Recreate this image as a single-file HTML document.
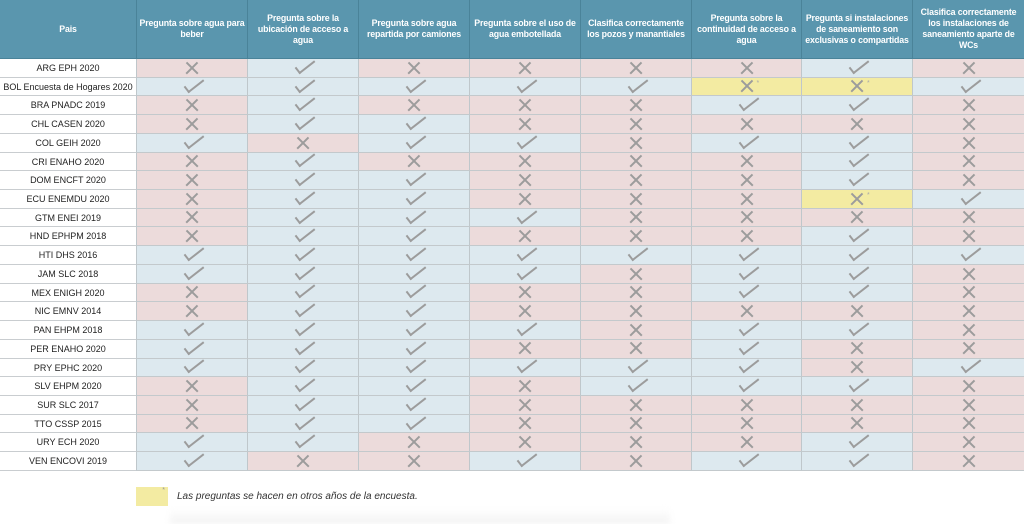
<!DOCTYPE html>
<html><head><meta charset="utf-8"><style>
*{box-sizing:border-box;margin:0;padding:0}
body{width:1024px;height:524px;background:#fff;font-family:"Liberation Sans",sans-serif;overflow:hidden;position:relative}
.g{position:absolute;left:0;top:0;display:grid;grid-template-columns:136px 111px 111px 111px 111px 111px 110px 111px 112px;grid-template-rows:59px repeat(22,18.73px)}
.h{background:#5a96ae;color:#fff;font-weight:bold;font-size:8.8px;line-height:11px;text-align:center;display:flex;align-items:center;justify-content:center;padding:0 2px;border-left:1px solid #4a8399;border-bottom:1px solid #4a8399;letter-spacing:-0.15px}
.h:first-child{border-left:none}
.n{font-size:9px;color:#222;text-align:center;line-height:18px;border-bottom:1px solid #c9cdd0;white-space:nowrap}
i{position:relative;border-bottom:1px solid #c3c9cc;border-left:1px solid #bfc7cb}
.r{background:#ecdbdb}.b{background:#dde9ef}.y{background:#f3eba2}
.x::before,.x::after{content:"";position:absolute;left:50%;top:50%;width:16px;height:2.4px;margin:-1.2px 0 0 -8px;background:#9c9c9c;transform:rotate(45deg)}
.x::after{transform:rotate(-45deg)}
.v::before{content:"";position:absolute;left:50%;top:50%;width:6px;height:18px;margin:-13px 0 0 -2px;border-right:2.4px solid #9c9c9c;border-bottom:2.4px solid #9c9c9c;transform:rotate(52deg)}
.s{position:absolute;left:50%;top:2px;margin-left:10px;font-size:7px;color:#aaa;font-style:normal}
.leg{position:absolute;left:136px;top:487px;width:32px;height:19px;background:#f3eba2}
.leg span{position:absolute;right:3px;top:0;font-size:7px;color:#999}
.lt{position:absolute;left:177px;top:491px;font-size:10px;font-style:italic;color:#333}
.sh{position:absolute;left:170px;top:508px;width:500px;height:16px;background:linear-gradient(#fff,#f2f2f2);filter:blur(3px)}
</style></head><body>
<div class="sh"></div>
<div class="g">
<div class="h">Pais</div><div class="h">Pregunta sobre agua para beber</div><div class="h">Pregunta sobre la ubicación de acceso a agua</div><div class="h">Pregunta sobre agua repartida por camiones</div><div class="h">Pregunta sobre el uso de agua embotellada</div><div class="h">Clasifica correctamente los pozos y manantiales</div><div class="h">Pregunta sobre la continuidad de acceso a agua</div><div class="h">Pregunta si instalaciones de saneamiento son exclusivas o compartidas</div><div class="h">Clasifica correctamente los instalaciones de saneamiento aparte de WCs</div>
<div class="n">ARG EPH 2020</div><i class="r x"></i><i class="b v"></i><i class="r x"></i><i class="r x"></i><i class="r x"></i><i class="r x"></i><i class="b v"></i><i class="r x"></i>
<div class="n">BOL Encuesta de Hogares 2020</div><i class="b v"></i><i class="b v"></i><i class="b v"></i><i class="b v"></i><i class="b v"></i><i class="y x"><em class="s">*</em></i><i class="y x"><em class="s">*</em></i><i class="b v"></i>
<div class="n">BRA PNADC 2019</div><i class="r x"></i><i class="b v"></i><i class="r x"></i><i class="r x"></i><i class="r x"></i><i class="b v"></i><i class="b v"></i><i class="r x"></i>
<div class="n">CHL CASEN 2020</div><i class="r x"></i><i class="b v"></i><i class="b v"></i><i class="r x"></i><i class="r x"></i><i class="r x"></i><i class="r x"></i><i class="r x"></i>
<div class="n">COL GEIH 2020</div><i class="b v"></i><i class="r x"></i><i class="b v"></i><i class="b v"></i><i class="r x"></i><i class="b v"></i><i class="b v"></i><i class="r x"></i>
<div class="n">CRI ENAHO 2020</div><i class="r x"></i><i class="b v"></i><i class="r x"></i><i class="r x"></i><i class="r x"></i><i class="r x"></i><i class="b v"></i><i class="r x"></i>
<div class="n">DOM ENCFT 2020</div><i class="r x"></i><i class="b v"></i><i class="b v"></i><i class="r x"></i><i class="r x"></i><i class="r x"></i><i class="b v"></i><i class="r x"></i>
<div class="n">ECU ENEMDU 2020</div><i class="r x"></i><i class="b v"></i><i class="b v"></i><i class="r x"></i><i class="r x"></i><i class="r x"></i><i class="y x"><em class="s">*</em></i><i class="b v"></i>
<div class="n">GTM ENEI 2019</div><i class="r x"></i><i class="b v"></i><i class="b v"></i><i class="b v"></i><i class="r x"></i><i class="r x"></i><i class="r x"></i><i class="r x"></i>
<div class="n">HND EPHPM 2018</div><i class="r x"></i><i class="b v"></i><i class="b v"></i><i class="r x"></i><i class="r x"></i><i class="r x"></i><i class="b v"></i><i class="r x"></i>
<div class="n">HTI DHS 2016</div><i class="b v"></i><i class="b v"></i><i class="b v"></i><i class="b v"></i><i class="b v"></i><i class="b v"></i><i class="b v"></i><i class="b v"></i>
<div class="n">JAM SLC 2018</div><i class="b v"></i><i class="b v"></i><i class="b v"></i><i class="b v"></i><i class="r x"></i><i class="b v"></i><i class="b v"></i><i class="r x"></i>
<div class="n">MEX ENIGH 2020</div><i class="r x"></i><i class="b v"></i><i class="b v"></i><i class="r x"></i><i class="r x"></i><i class="b v"></i><i class="b v"></i><i class="r x"></i>
<div class="n">NIC EMNV 2014</div><i class="r x"></i><i class="b v"></i><i class="b v"></i><i class="r x"></i><i class="r x"></i><i class="r x"></i><i class="r x"></i><i class="r x"></i>
<div class="n">PAN EHPM 2018</div><i class="b v"></i><i class="b v"></i><i class="b v"></i><i class="b v"></i><i class="r x"></i><i class="b v"></i><i class="b v"></i><i class="r x"></i>
<div class="n">PER ENAHO 2020</div><i class="b v"></i><i class="b v"></i><i class="b v"></i><i class="r x"></i><i class="r x"></i><i class="b v"></i><i class="r x"></i><i class="r x"></i>
<div class="n">PRY EPHC 2020</div><i class="b v"></i><i class="b v"></i><i class="b v"></i><i class="b v"></i><i class="b v"></i><i class="b v"></i><i class="r x"></i><i class="b v"></i>
<div class="n">SLV EHPM 2020</div><i class="r x"></i><i class="b v"></i><i class="b v"></i><i class="r x"></i><i class="b v"></i><i class="b v"></i><i class="b v"></i><i class="r x"></i>
<div class="n">SUR SLC 2017</div><i class="r x"></i><i class="b v"></i><i class="b v"></i><i class="r x"></i><i class="r x"></i><i class="r x"></i><i class="r x"></i><i class="r x"></i>
<div class="n">TTO CSSP 2015</div><i class="r x"></i><i class="b v"></i><i class="b v"></i><i class="r x"></i><i class="r x"></i><i class="r x"></i><i class="r x"></i><i class="r x"></i>
<div class="n">URY ECH 2020</div><i class="b v"></i><i class="b v"></i><i class="r x"></i><i class="r x"></i><i class="r x"></i><i class="r x"></i><i class="b v"></i><i class="r x"></i>
<div class="n">VEN ENCOVI 2019</div><i class="b v"></i><i class="r x"></i><i class="r x"></i><i class="b v"></i><i class="r x"></i><i class="b v"></i><i class="b v"></i><i class="r x"></i>
</div>
<div class="leg"><span>*</span></div>
<div class="lt">Las preguntas se hacen en otros años de la encuesta.</div>
</body></html>
